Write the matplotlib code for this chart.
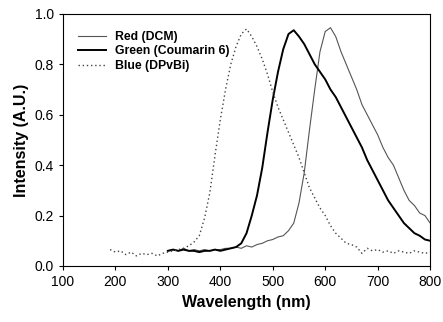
import matplotlib
matplotlib.use("Agg")
import matplotlib.pyplot as plt

plt.rcParams['font.family'] = ['Liberation Sans', 'DejaVu Sans']

# Blue (DPvBi) emission
blue_wl = list(range(190, 801, 10))
blue_int = [0.065, 0.055, 0.06, 0.045, 0.055, 0.04, 0.05, 0.045, 0.05, 0.04,
            0.05, 0.055, 0.06, 0.065, 0.07, 0.08, 0.095, 0.12, 0.19, 0.29,
            0.44, 0.58, 0.70, 0.80, 0.87, 0.92, 0.94, 0.91, 0.87, 0.82,
            0.76, 0.69, 0.63, 0.58, 0.53, 0.48, 0.43, 0.37, 0.31, 0.27,
            0.23, 0.20, 0.16, 0.13, 0.11, 0.09, 0.085, 0.075, 0.05, 0.07,
            0.06, 0.065, 0.055, 0.06, 0.05, 0.06, 0.055, 0.05, 0.06, 0.055,
            0.05, 0.055]

# Green (Coumarin 6) emission
green_wl = list(range(300, 801, 10))
green_int = [0.06, 0.065, 0.06, 0.065, 0.06, 0.06, 0.055, 0.06, 0.06, 0.065,
             0.06, 0.065, 0.07, 0.075, 0.09, 0.13, 0.20, 0.28, 0.39, 0.53,
             0.66, 0.77, 0.86, 0.92, 0.935, 0.91, 0.88, 0.84, 0.80, 0.77,
             0.74, 0.70, 0.67, 0.63, 0.59, 0.55, 0.51, 0.47, 0.42, 0.38,
             0.34, 0.30, 0.26, 0.23, 0.20, 0.17, 0.15, 0.13, 0.12, 0.105,
             0.10]

# Red (DCM) emission
red_wl = list(range(300, 801, 10))
red_int = [0.06, 0.065, 0.06, 0.07, 0.06, 0.065, 0.06, 0.065, 0.06, 0.065,
           0.065, 0.07, 0.07, 0.075, 0.07, 0.08, 0.075, 0.085, 0.09, 0.10,
           0.105, 0.115, 0.12, 0.14, 0.17, 0.25, 0.37, 0.54, 0.70, 0.85,
           0.93, 0.945, 0.91, 0.85, 0.80, 0.75, 0.70, 0.64, 0.60, 0.56,
           0.52, 0.47, 0.43, 0.40, 0.35, 0.30, 0.26, 0.24, 0.21, 0.20,
           0.17]

fig = plt.figure(figsize=(4.43, 3.22), dpi=100)
ax = fig.add_axes([0.142, 0.174, 0.829, 0.783])

ax.plot(red_wl, red_int, color='#555555', lw=0.8, label='Red (DCM)')
ax.plot(green_wl, green_int, color='black', lw=1.4, label='Green (Coumarin 6)')
ax.plot(blue_wl, blue_int, color='#444444', lw=1.0, ls=(0, (1, 2)),
        label='Blue (DPvBi)')

ax.set_xlim(100, 800)
ax.set_ylim(0, 1.0)
ax.set_xticks(range(100, 801, 100))
ax.set_yticks([0.0, 0.2, 0.4, 0.6, 0.8, 1.0])
ax.set_yticklabels(['0.0', '0.2', '0.4', '0.6', '0.8', '1.0'])
ax.tick_params(direction='out', length=3, labelsize=10)
for s in ax.spines.values():
    s.set_linewidth(0.8)

ax.set_xlabel('Wavelength (nm)', fontsize=11.5, fontweight='bold')
ax.set_ylabel('Intensity (A.U.)', fontsize=11.5, fontweight='bold')

leg = ax.legend(loc='upper left', frameon=False, fontsize=8.8,
                handlelength=2.3, borderaxespad=0.8, labelspacing=0.2,
                bbox_to_anchor=(0.0, 0.99))
for t in leg.get_texts():
    t.set_fontweight('bold')

fig.savefig('out.png', dpi=100)
